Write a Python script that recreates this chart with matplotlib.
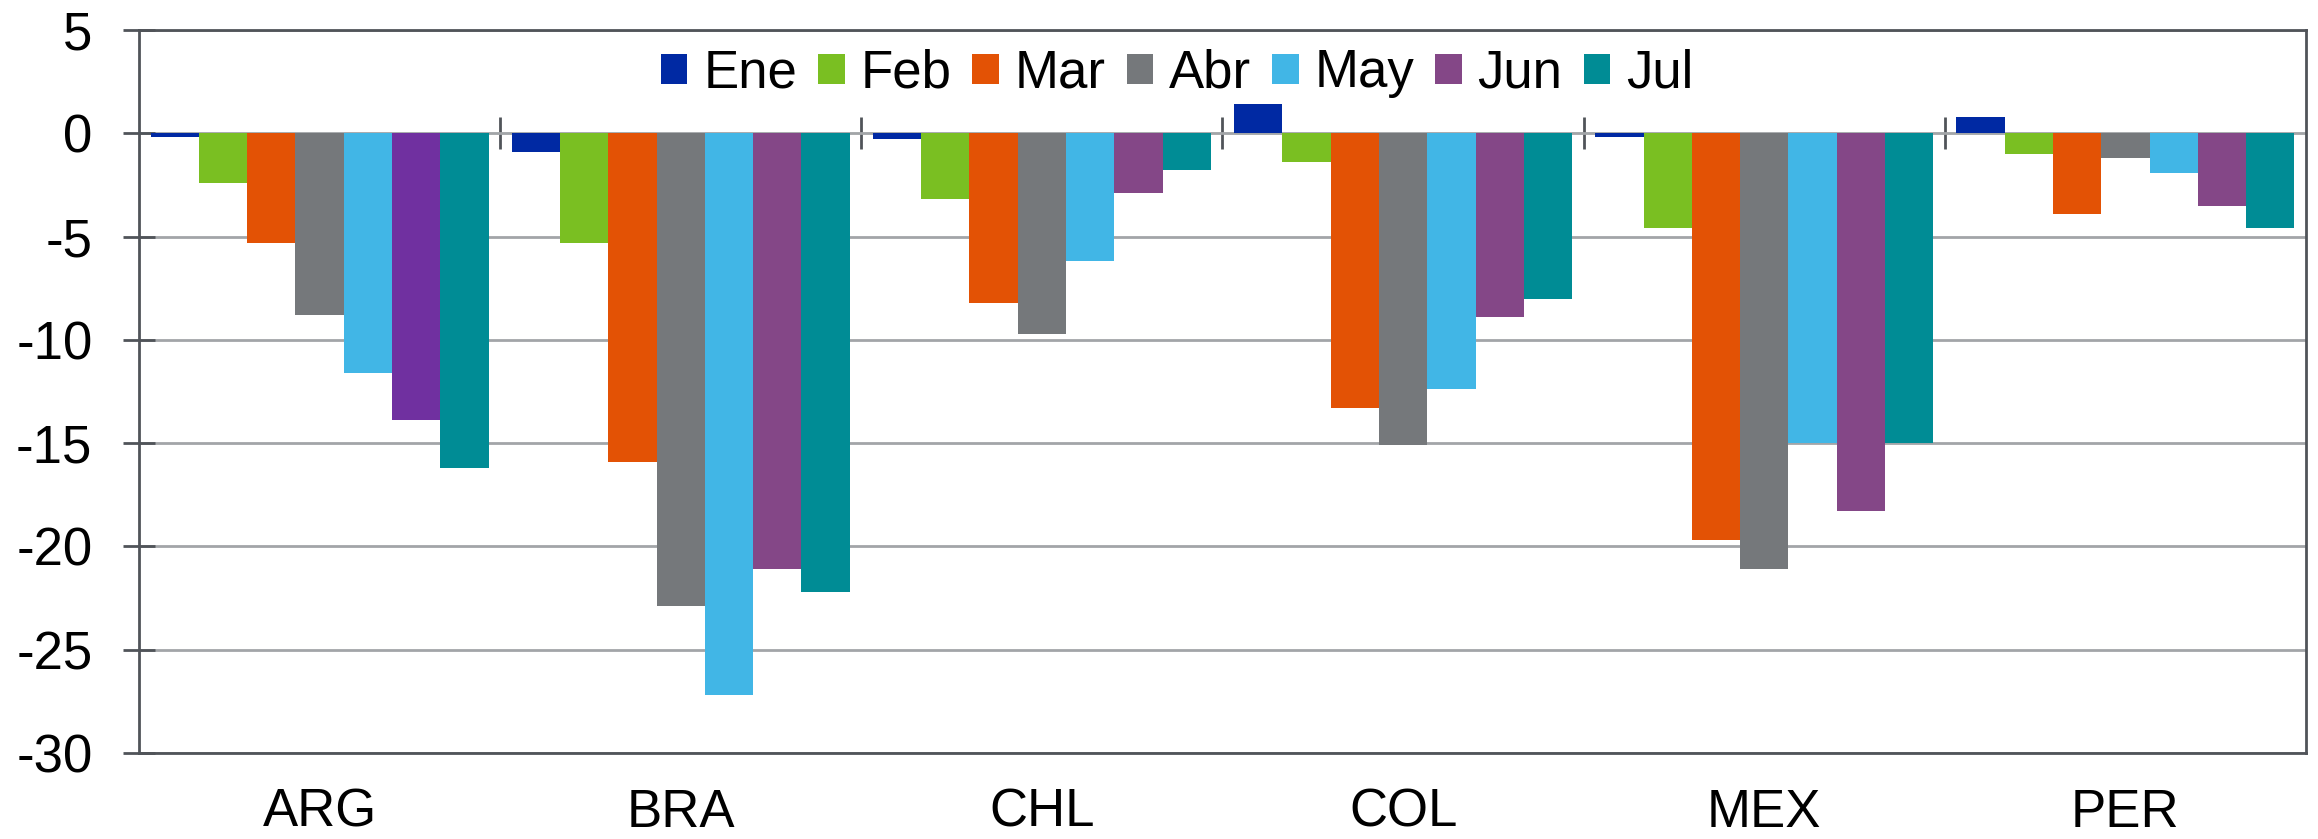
import numpy as np
import matplotlib.pyplot as plt

plt.rcParams['font.family'] = ['Liberation Sans', 'DejaVu Sans']
plt.rcParams['axes.unicode_minus'] = False

paises = ["ARG", "BRA", "CHL", "COL", "MEX", "PER"]
meses = ["Ene", "Feb", "Mar", "Abr", "May", "Jun", "Jul"]

ene = [-0.2, -0.9, -0.3, 1.4, -0.2, 0.8]
feb = [-2.4, -5.3, -3.2, -1.4, -4.6, -1.0]
mar = [-5.3, -15.9, -8.2, -13.3, -19.7, -3.9]
abr = [-8.8, -22.9, -9.7, -15.1, -21.1, -1.2]
may = [-11.6, -27.2, -6.2, -12.4, -15.0, -1.9]
jun = [-13.9, -21.1, -2.9, -8.9, -18.3, -3.5]
jul = [-16.2, -22.2, -1.8, -8.0, -15.0, -4.6]

series = [ene, feb, mar, abr, may, jun, jul]
colores = ["#0029A3", "#7ABF22", "#E35205", "#75787B", "#41B6E6", "#844787", "#008C95"]

fig = plt.figure(figsize=(23.18, 8.39), dpi=100)
ax = fig.add_axes([139 / 2318, 1 - 753 / 839, (2306 - 139) / 2318, (753 - 30) / 839])

x = np.arange(len(paises))
w = 0.1337
containers = {}
for i, (vals, c, lab) in enumerate(zip(series, colores, meses)):
    containers[lab] = ax.bar(x + (i - 3) * w, vals, width=w, color=c, label=lab,
                             linewidth=0, zorder=2)

ax.set_xlim(-0.5, 5.5)
ax.set_ylim(-30, 5)
ax.set_yticks(range(-30, 6, 5))
ax.set_xticks(x)
ax.set_xticklabels(paises)

spine_c = "#505459"
for s in ax.spines.values():
    s.set_color(spine_c)
    s.set_linewidth(2)

ax.yaxis.grid(True, color="#A2A5A8", linewidth=2)
ax.set_axisbelow(True)

ax.tick_params(axis="y", direction="inout", length=23, width=2, color=spine_c,
               labelsize=38, pad=22)
ax.tick_params(axis="x", length=0, labelsize=38, pad=25)

# category axis line through zero with separators between groups
zero = ax.secondary_xaxis(30 / 35)
zero.spines["bottom"].set_color(spine_c)
zero.spines["bottom"].set_linewidth(2)
zero.set_xticks(np.arange(0.5, 5.0, 1.0))
zero.set_xticklabels([])
zero.tick_params(axis="x", direction="inout", length=23, width=2, color=spine_c)

ax.legend(loc="center", bbox_to_anchor=(0.479, 0.94), ncol=7, frameon=False,
          fontsize=38, handlelength=0.5, handleheight=0.5, handletextpad=0.3,
          columnspacing=0.4, borderaxespad=0)

# ARG Jun is drawn in a different purple (after the legend so the key keeps the usual one)
containers["Jun"][0].set_facecolor("#7030A0")

fig.savefig("out.png", dpi=100)
